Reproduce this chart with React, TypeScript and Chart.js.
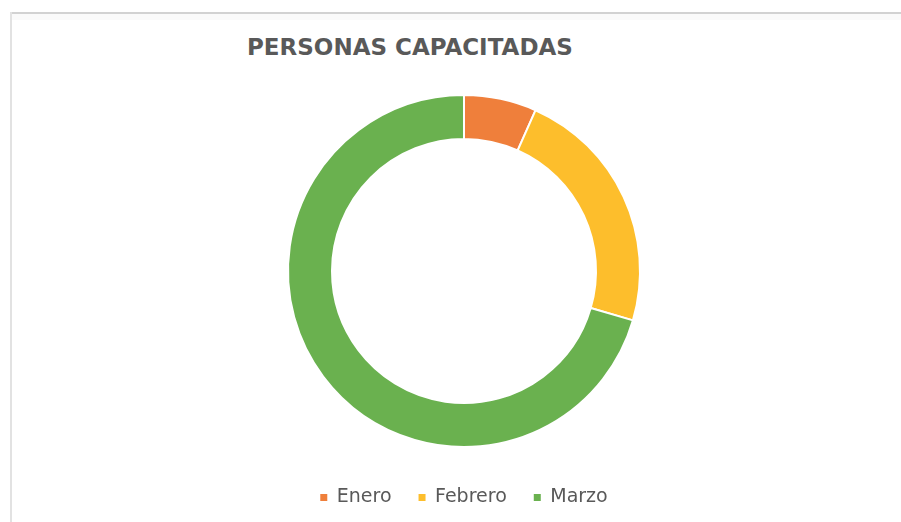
import React, { useEffect, useRef } from "react";
import { Chart, registerables } from "chart.js";

Chart.register(...registerables);

const TITLE = "PERSONAS CAPACITADAS";
const categories = ["Enero", "Febrero", "Marzo"];
const values = [14, 48, 148];
const colors = ["#EF7F3B", "#FDBE2C", "#6AB14F"];

export default function App() {
  const ref = useRef<HTMLCanvasElement | null>(null);

  useEffect(() => {
    if (!ref.current) return;
    const chart = new Chart(ref.current, {
      type: "doughnut",
      data: {
        labels: categories,
        datasets: [
          {
            data: values,
            backgroundColor: colors,
            borderColor: "#ffffff",
            borderWidth: 2,
            radius: 176,
            cutout: "75%",
          },
        ],
      },
      options: {
        animation: false,
        responsive: true,
        maintainAspectRatio: false,
        layout: { padding: { top: 81, bottom: 0, left: 0, right: 0 } },
        plugins: {
          tooltip: { enabled: false },
          title: { display: false },
          legend: {
            position: "bottom",
            labels: {
              boxWidth: 7,
              boxHeight: 7,
              padding: 27,
              color: "#595959",
              font: { family: "'DejaVu Sans'", size: 19 },
              generateLabels: (c: any) =>
                (Chart as any).overrides.doughnut.plugins.legend.labels
                  .generateLabels(c)
                  .map((l: any) => ({ ...l, lineWidth: 0, strokeStyle: l.fillStyle })),
            },
          },
        },
      },
    });
    return () => chart.destroy();
  }, []);

  return (
    <div
      style={{
        position: "absolute",
        left: 0,
        top: 0,
        width: 901,
        height: 522,
        overflow: "hidden",
        background: "#ffffff",
      }}
    >
      <div style={{ position: "absolute", left: 10, top: 12, right: 0, height: 2, background: "#D2D2D2" }} />
      <div style={{ position: "absolute", left: 10, top: 12, width: 2, bottom: 0, background: "#E2E2E2" }} />
      <div style={{ position: "absolute", left: 12, top: 14, right: 0, height: 6, background: "#FAFAFA" }} />
      <div
        style={{
          position: "absolute",
          left: 247,
          top: 34,
          fontFamily: "'DejaVu Sans', sans-serif",
          fontWeight: "bold",
          fontSize: 23,
          color: "#595959",
          whiteSpace: "nowrap",
          lineHeight: "26px",
        }}
      >
        {TITLE}
      </div>
      <div style={{ position: "absolute", left: 28, top: 0, width: 872, height: 517 }}>
        <canvas ref={ref} />
      </div>
    </div>
  );
}
